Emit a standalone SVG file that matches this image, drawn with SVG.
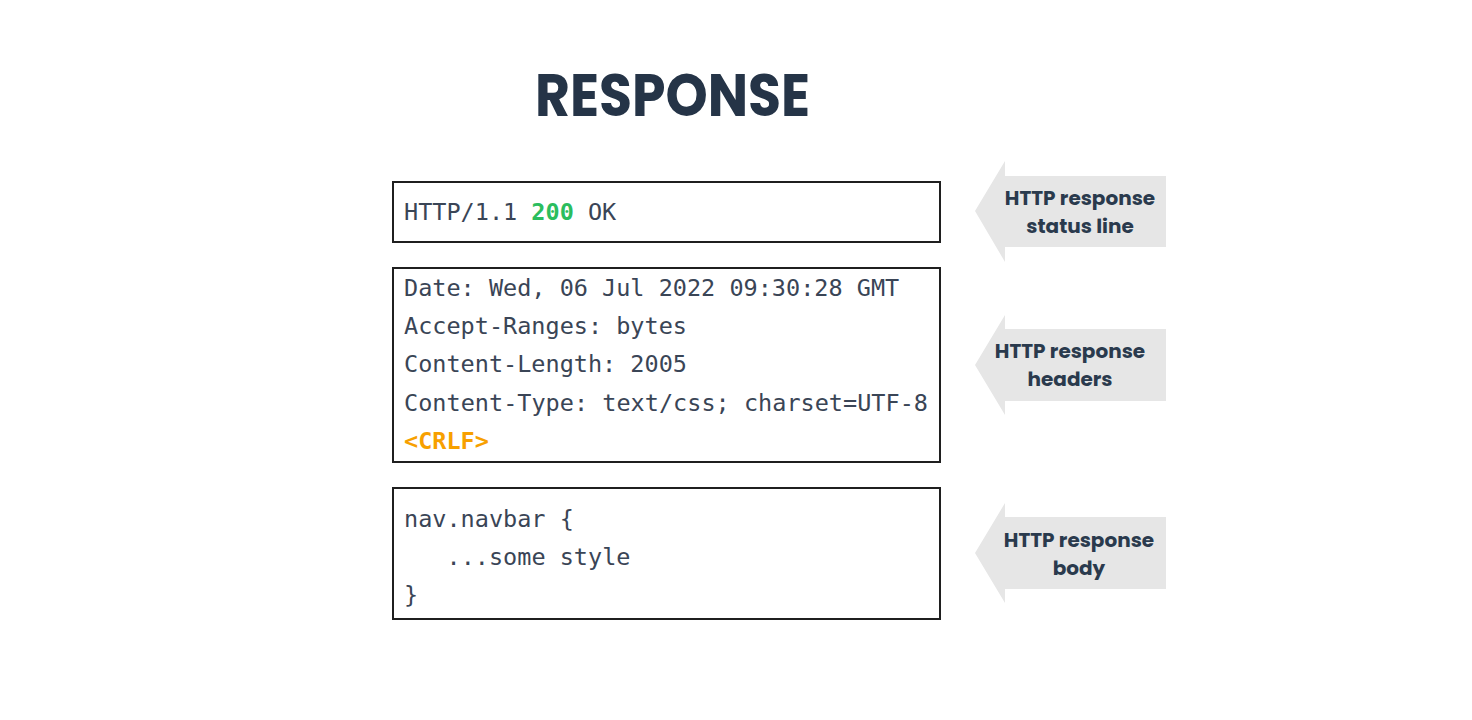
<svg xmlns="http://www.w3.org/2000/svg" width="1472" height="720" viewBox="0 0 1472 720">
<style>
.box{fill:#fff;stroke:#1f1f1f;stroke-width:2}
.code{font-family:"DejaVu Sans Mono","Liberation Mono",monospace;font-size:23.5px;fill:#3a4556}
.arrow{fill:#e6e6e6}
.lbl{font-family:"Poppins","Inter","Open Sans",sans-serif;font-weight:700;font-size:20px;fill:#2a3a4d;text-anchor:middle}
.title{font-family:"Poppins","Inter","Open Sans",sans-serif;font-weight:700;font-size:60px;fill:#253447}
</style>
<rect width="1472" height="720" fill="#fff"/>
<text class="title" x="535" y="116" textLength="275" lengthAdjust="spacingAndGlyphs">RESPONSE</text>
<g id="status-line">
<rect class="box" x="393" y="182" width="547" height="60"/>
<text class="code" x="404" y="220">HTTP/1.1 <tspan fill="#2bbd5e" font-weight="700">200</tspan> OK</text>
</g>
<g id="headers">
<rect class="box" x="393" y="268" width="547" height="194"/>
<text class="code" x="404" y="296">Date: Wed, 06 Jul 2022 09:30:28 GMT</text>
<text class="code" x="404" y="334">Accept-Ranges: bytes</text>
<text class="code" x="404" y="372">Content-Length: 2005</text>
<text class="code" x="404" y="411" textLength="524" lengthAdjust="spacing">Content-Type: text/css; charset=UTF-8</text>
<text class="code" x="404" y="449" font-weight="700" style="fill:#f7a000">&lt;CRLF&gt;</text>
</g>
<g id="body">
<rect class="box" x="393" y="488" width="547" height="131"/>
<text class="code" x="404" y="527">nav.navbar {</text>
<text class="code" x="446.5" y="565">...some style</text>
<text class="code" x="404" y="603">}</text>
</g>
<g id="connectors">
<polygon class="arrow" points="975,211 1005,161 1005,176 1166,176 1166,247 1005,247 1005,262"/>
<polygon class="arrow" points="975,365 1005,315 1005,329 1166,329 1166,401 1005,401 1005,415"/>
<polygon class="arrow" points="975,553 1005,503 1005,517 1166,517 1166,589 1005,589 1005,603"/>
</g>
<g id="label-status">
<text class="lbl" x="1080" y="205">HTTP response</text>
<text class="lbl" x="1080" y="233">status line</text>
</g>
<g id="label-headers">
<text class="lbl" x="1070" y="358">HTTP response</text>
<text class="lbl" x="1070" y="386">headers</text>
</g>
<g id="label-body">
<text class="lbl" x="1079" y="547">HTTP response</text>
<text class="lbl" x="1079" y="575">body</text>
</g>
</svg>
